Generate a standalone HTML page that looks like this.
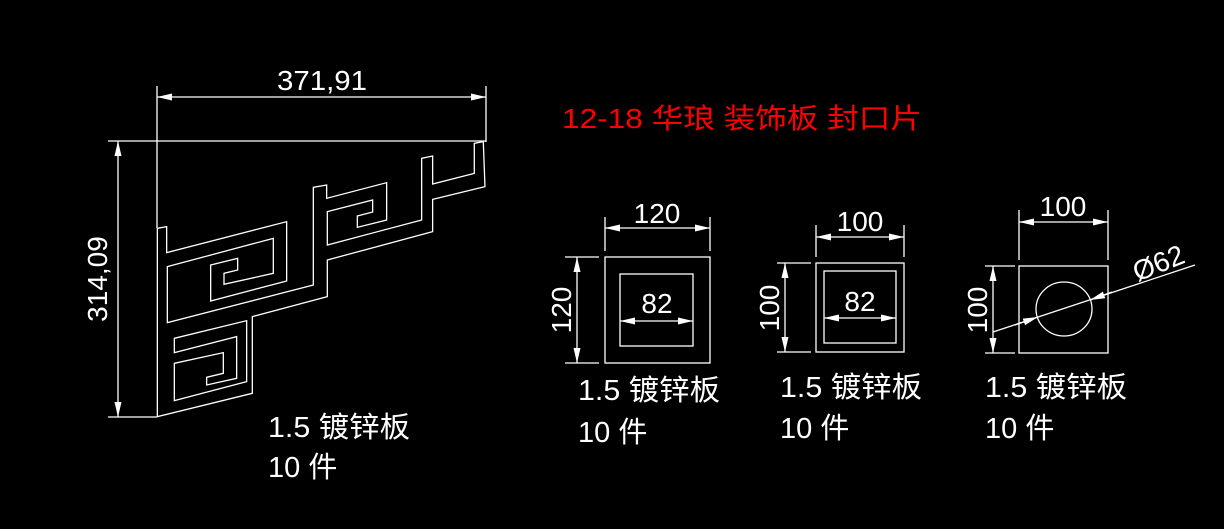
<!DOCTYPE html>
<html><head><meta charset="utf-8"><style>
html,body{margin:0;padding:0;background:#000;}
svg{display:block}
text{font-family:"Liberation Sans","Noto Sans CJK SC",sans-serif;fill:#fff}
</style></head><body>
<svg width="1224" height="529" viewBox="0 0 1224 529" xmlns="http://www.w3.org/2000/svg">
<defs>
<marker id="a" markerUnits="userSpaceOnUse" markerWidth="16" markerHeight="8" refX="15" refY="3.5" orient="auto-start-reverse"><path d="M0,0 L15,3.5 L0,7 z" fill="#fff"/></marker>
</defs>
<g stroke="#fff" stroke-width="1.3" fill="none">
<g transform="translate(150,130) scale(0.3333)">
<path vector-effect="non-scaling-stroke" d="M22,860 L22,295 L50,290 L50,368 L410,275 L410,453 L182,513 L182,405 L263,385 L263,420 L222,430 L222,463 L370,430 L370,325 L52,410 L52,578 L490,465 L490,172 L530,165 L530,205 L710,158 L710,270 L622,292 L622,258 L668,246 L668,210 L532,245 L532,345 L815,270 L815,85 L848,78 L848,162 L973,130 L973,40 L1000,35 L1005,170 L848,208 L848,305 L532,390 L532,500 L307,560 L307,790 Z"/>
<path vector-effect="non-scaling-stroke" d="M73,625 L290,572 L290,755 L73,812 L73,700 L220,668 L220,730 L170,742 L170,765 L260,745 L260,620 L73,668 Z"/>
</g>
<line x1="157" y1="86" x2="157" y2="228"/>
<line x1="486" y1="86" x2="486" y2="142"/>
<line x1="157" y1="97" x2="486" y2="97" marker-start="url(#a)" marker-end="url(#a)"/>
<line x1="108" y1="141" x2="486" y2="141"/>
<line x1="108" y1="417" x2="157" y2="417"/>
<line x1="118" y1="141" x2="118" y2="417" marker-start="url(#a)" marker-end="url(#a)"/>
<rect x="605" y="257" width="105" height="106"/>
<rect x="620" y="274" width="73" height="72"/>
<line x1="620" y1="321" x2="693" y2="321" marker-start="url(#a)" marker-end="url(#a)"/>
<line x1="605" y1="217" x2="605" y2="251"/><line x1="710" y1="217" x2="710" y2="251"/>
<line x1="605" y1="228" x2="710" y2="228" marker-start="url(#a)" marker-end="url(#a)"/>
<line x1="565" y1="257" x2="599" y2="257"/><line x1="565" y1="363" x2="599" y2="363"/>
<line x1="577" y1="257" x2="577" y2="363" marker-start="url(#a)" marker-end="url(#a)"/>
<rect x="816" y="263" width="88" height="89"/>
<rect x="824" y="271" width="72" height="72"/>
<line x1="824" y1="318" x2="896" y2="318" marker-start="url(#a)" marker-end="url(#a)"/>
<line x1="816" y1="225" x2="816" y2="257"/><line x1="904" y1="225" x2="904" y2="257"/>
<line x1="816" y1="237" x2="904" y2="237" marker-start="url(#a)" marker-end="url(#a)"/>
<line x1="777" y1="263" x2="811" y2="263"/><line x1="777" y1="352" x2="811" y2="352"/>
<line x1="785" y1="263" x2="785" y2="352" marker-start="url(#a)" marker-end="url(#a)"/>
<rect x="1019" y="266" width="89" height="87"/>
<ellipse cx="1064" cy="309" rx="28" ry="27"/>
<line x1="1019" y1="210" x2="1019" y2="260"/><line x1="1108" y1="210" x2="1108" y2="260"/>
<line x1="1019" y1="222" x2="1108" y2="222" marker-start="url(#a)" marker-end="url(#a)"/>
<line x1="985" y1="266" x2="1015" y2="266"/><line x1="985" y1="353" x2="1015" y2="353"/>
<line x1="993" y1="266" x2="993" y2="353" marker-start="url(#a)" marker-end="url(#a)"/>
<line x1="993" y1="332" x2="1195" y2="265"/>
<line x1="1015" y1="325" x2="1038" y2="317" marker-end="url(#a)"/>
<line x1="1112" y1="292" x2="1090" y2="300" marker-end="url(#a)"/>
</g>
<g font-size="28">
<text x="277" y="90" textLength="90" lengthAdjust="spacingAndGlyphs">371,91</text>
<text transform="translate(107,279) rotate(-90)" text-anchor="middle">314,09</text>
<text x="657" y="223" text-anchor="middle">120</text>
<text x="657" y="313" text-anchor="middle">82</text>
<text transform="translate(571,310) rotate(-90)" text-anchor="middle">120</text>
<text x="860" y="231" text-anchor="middle">100</text>
<text x="860" y="311" text-anchor="middle">82</text>
<text transform="translate(779,308) rotate(-90)" text-anchor="middle">100</text>
<text x="1063" y="216" text-anchor="middle">100</text>
<text transform="translate(987,310) rotate(-90)" text-anchor="middle">100</text>
<text transform="translate(1162,272) rotate(-22)" text-anchor="middle">Ø62</text>
</g>
<g font-size="29">
<text x="268" y="437" textLength="142" lengthAdjust="spacingAndGlyphs">1.5 镀锌板</text>
<text x="268" y="477">10 件</text>
<text x="578" y="400" textLength="142" lengthAdjust="spacingAndGlyphs">1.5 镀锌板</text>
<text x="578" y="442">10 件</text>
<text x="780" y="397" textLength="142" lengthAdjust="spacingAndGlyphs">1.5 镀锌板</text>
<text x="780" y="438">10 件</text>
<text x="985" y="397" textLength="142" lengthAdjust="spacingAndGlyphs">1.5 镀锌板</text>
<text x="985" y="438">10 件</text>
</g>
<text x="562" y="128" font-size="28" textLength="360" lengthAdjust="spacingAndGlyphs" style="fill:#ff0000">12-18 华琅  装饰板 封口片</text>
</svg>
</body></html>
